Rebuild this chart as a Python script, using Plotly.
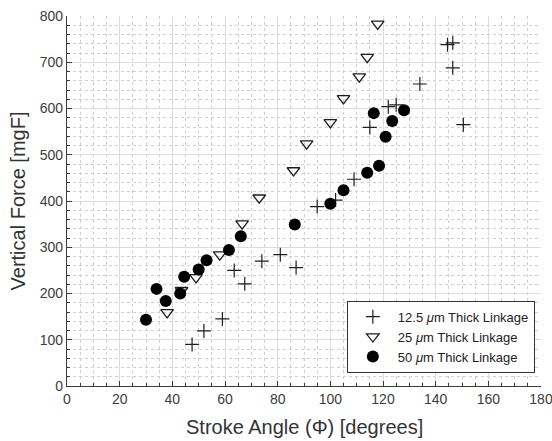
import plotly.graph_objects as go

# Stroke angle (deg) and vertical force (mgF) for each linkage thickness
angle_12_5 = [47.5, 52, 59, 63.5, 67.5, 74, 81, 87, 95, 102, 109, 115, 122, 125, 134, 144.5, 146.5, 146.5, 150.5]
force_12_5 = [90, 119, 145, 250, 221, 270, 284, 256, 388, 402, 447, 559, 604, 608, 653, 738, 742, 688, 565]

angle_25 = [38, 43.5, 49, 58, 66.5, 73, 86, 91, 100, 105, 111, 114, 118]
force_25 = [159, 207, 235, 284, 351, 407, 466, 524, 570, 622, 669, 711, 783]

angle_50 = [30, 34, 37.5, 43, 44.5, 50, 53, 61.5, 66, 86.5, 100, 105, 114, 118.5, 121, 123.5, 116.5, 128]
force_50 = [143, 210, 184, 200, 236, 252, 272, 294, 324, 349, 394, 423, 461, 476, 539, 573, 590, 596]

labels = ["12.5 <i>μ</i>m Thick Linkage", "25 <i>μ</i>m Thick Linkage", "50 <i>μ</i>m Thick Linkage"]

ink = "#1e1e1e"
font_family = "Liberation Sans, Arial"
title_font = dict(family=font_family, size=20, color="#333333")

fig = go.Figure()
fig.add_trace(go.Scatter(
    x=angle_12_5, y=force_12_5, mode="markers", name=labels[0],
    marker=dict(symbol="cross-thin", size=10, line=dict(width=1.2, color=ink), color=ink),
))
fig.add_trace(go.Scatter(
    x=angle_25, y=force_25, mode="markers", name=labels[1],
    marker=dict(symbol="triangle-down-open", size=11, line=dict(width=1.3, color=ink), color=ink),
))
fig.add_trace(go.Scatter(
    x=angle_50, y=force_50, mode="markers", name=labels[2],
    marker=dict(symbol="circle", size=12, color="#000000", line=dict(width=0)),
))

axis_common = dict(
    showgrid=True, gridcolor="#dcdcdc", gridwidth=1,
    zeroline=False, showline=True, linecolor="#3a3a3a", linewidth=1.2,
    ticks="inside", ticklen=5, tickcolor="#3a3a3a",
    tickfont=dict(family=font_family, size=14, color="#3c3c3c"),
    ticklabeloverflow="allow",
    mirror=False, automargin=False,
)

fig.update_xaxes(
    range=[0, 180], dtick=20, tick0=0,
    minor=dict(dtick=5, showgrid=True, gridcolor="#cfcfcf", griddash="dot", gridwidth=1,
               ticks="inside", ticklen=3, tickcolor="#3a3a3a"),
    **axis_common,
)
fig.update_yaxes(
    range=[0, 800], dtick=100, tick0=0,
    title=dict(text="Vertical Force [mgF]", font=title_font, standoff=8),
    minor=dict(dtick=20, showgrid=True, gridcolor="#cfcfcf", griddash="dot", gridwidth=1,
               ticks="inside", ticklen=3, tickcolor="#3a3a3a"),
    **axis_common,
)

# x-axis title placed below the tick labels
fig.add_annotation(
    text="Stroke Angle (Φ) [degrees]", xref="paper", yref="paper",
    x=0.5, y=-0.111, xanchor="center", yanchor="middle",
    showarrow=False, font=title_font,
)

fig.update_layout(
    width=552, height=441,
    margin=dict(l=67, r=11, t=16, b=55),
    paper_bgcolor="white", plot_bgcolor="white",
    legend=dict(
        x=0.987, y=0.036, xanchor="right", yanchor="bottom",
        bgcolor="white", bordercolor="#333333", borderwidth=1,
        font=dict(family=font_family, size=13, color="#222222"),
        tracegroupgap=0, itemwidth=40,
    ),
)

fig.write_html("out.html")
